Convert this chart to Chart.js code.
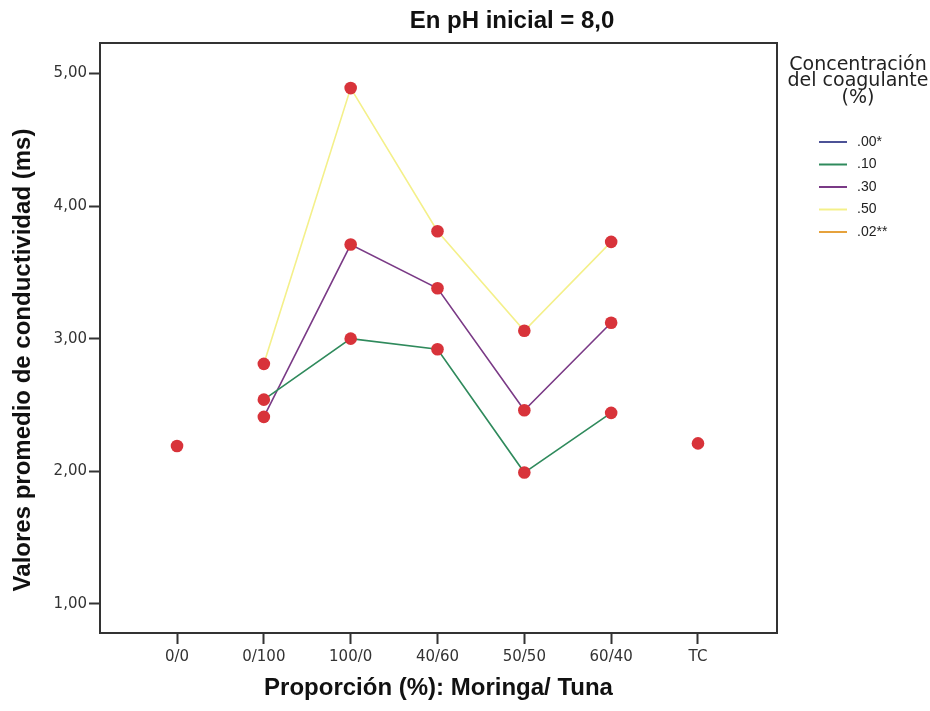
<!DOCTYPE html>
<html>
<head>
<meta charset="utf-8">
<title>Conductividad promedio - pH inicial 8,0</title>
<script src="https://cdn.jsdelivr.net/npm/chart.js@4.4.1/dist/chart.umd.min.js"></script>
<style>
  html, body { margin: 0; padding: 0; background: #fff; }
  #wrap { width: 930px; height: 711px; }
</style>
</head>
<body>
<div id="wrap"><canvas id="chart" width="930" height="711"></canvas></div>
<script>
// Proporciones Moringa/Tuna (eje X) y marcas del eje Y
const categories = ["0/0", "0/100", "100/0", "40/60", "50/50", "60/40", "TC"];
const yTicks = [1, 2, 3, 4, 5];

// Conductividad promedio (ms) por concentración de coagulante
const serie00 = [2.19, null, null, null, null, null, null];
const serie10 = [null, 2.54, 3.00, 2.92, 1.99, 2.44, null];
const serie30 = [null, 2.41, 3.71, 3.38, 2.46, 3.12, null];
const serie50 = [null, 2.81, 4.89, 3.81, 3.06, 3.73, null];
const serie02 = [null, null, null, null, null, null, 2.21];

const seriesNames = [".00*", ".10", ".30", ".50", ".02**"];
const seriesValues = [serie00, serie10, serie30, serie50, serie02];
const seriesColors = ["#4c5296", "#2f8a5c", "#7a3a86", "#f4f08a", "#e6a23c"];
const markerColor = "#d8333a";

const legendTitle = ["Concentración", "del coagulante", "(%)"];
const yTitle = "Valores promedio de conductividad (ms)";

// keep only the categories where the series has a value
function toPoints(values) {
  return values
    .map((v, i) => ({ x: i, y: v }))
    .filter(p => p.y !== null);
}

const datasets = seriesNames.map((name, i) => ({
  label: name,
  data: toPoints(seriesValues[i]),
  borderColor: seriesColors[i],
  backgroundColor: seriesColors[i],
  borderWidth: 1.6,
  tension: 0,
  pointRadius: 6.3,
  pointHoverRadius: 6.3,
  pointBorderWidth: 0,
  pointBackgroundColor: markerColor
}));

// Title, frame around the plot, y title and the legend block on the right
const decorations = {
  id: "decorations",
  beforeDatasetsDraw(chart) {
    const { ctx, chartArea: a } = chart;
    ctx.save();
    ctx.strokeStyle = "#333";
    ctx.lineWidth = 2;
    ctx.strokeRect(a.left, a.top, a.right - a.left, a.bottom - a.top);
    ctx.restore();
  },
  afterDraw(chart) {
    const { ctx } = chart;
    ctx.save();
    ctx.fillStyle = "#111";
    ctx.textAlign = "center";
    ctx.textBaseline = "middle";
    ctx.font = "bold 24px 'Liberation Sans'";
    ctx.fillText("En pH inicial = 8,0", 512, 21);

    // y axis title, rotated
    ctx.save();
    ctx.translate(23, 360);
    ctx.rotate(-Math.PI / 2);
    ctx.font = "bold 24px 'Liberation Sans'";
    ctx.fillText(yTitle, 0, 0);
    ctx.restore();

    // legend title
    ctx.fillStyle = "#222";
    ctx.font = "19px 'DejaVu Sans'";
    legendTitle.forEach((line, i) => ctx.fillText(line, 858, 65 + i * 16.5));

    // legend entries
    ctx.textAlign = "left";
    ctx.font = "14px 'Liberation Sans'";
    seriesNames.forEach((name, i) => {
      const y = 142 + i * 22.5;
      ctx.strokeStyle = seriesColors[i];
      ctx.lineWidth = 2;
      ctx.beginPath();
      ctx.moveTo(819, y);
      ctx.lineTo(847, y);
      ctx.stroke();
      ctx.fillStyle = "#222";
      ctx.fillText(name, 857, y);
    });
    ctx.restore();
  }
};

new Chart(document.getElementById("chart").getContext("2d"), {
  type: "line",
  data: { datasets },
  plugins: [decorations],
  options: {
    responsive: false,
    animation: false,
    layout: { padding: { top: 43, right: 153, left: 0, bottom: 0 } },
    plugins: {
      legend: { display: false },
      tooltip: { enabled: false }
    },
    scales: {
      x: {
        type: "linear",
        min: -0.887,
        max: 6.91,
        afterBuildTicks: scale => { scale.ticks = categories.map((_, i) => ({ value: i })); },
        afterFit: scale => { scale.height = 78; },
        border: { display: false },
        grid: { drawOnChartArea: false, drawTicks: true, tickLength: 11, tickColor: "#333", tickWidth: 2 },
        ticks: {
          autoSkip: false,
          maxRotation: 0,
          padding: 4,
          color: "#333",
          font: { family: "DejaVu Sans", size: 15 },
          callback: v => categories[v]
        },
        title: {
          display: true,
          text: "Proporción (%): Moringa/ Tuna",
          color: "#111",
          font: { family: "Liberation Sans", size: 24, weight: "bold" },
          padding: { top: 0, bottom: 8 }
        }
      },
      y: {
        type: "linear",
        min: 0.78,
        max: 5.23,
        afterBuildTicks: scale => { scale.ticks = yTicks.map(v => ({ value: v })); },
        afterFit: scale => { scale.width = 100; },
        border: { display: false },
        grid: { drawOnChartArea: false, drawTicks: true, tickLength: 11, tickColor: "#333", tickWidth: 2 },
        ticks: {
          padding: 2,
          color: "#333",
          font: { family: "DejaVu Sans", size: 15 },
          callback: v => v.toFixed(2).replace(".", ",")
        }
      }
    }
  }
});
</script>
</body>
</html>
